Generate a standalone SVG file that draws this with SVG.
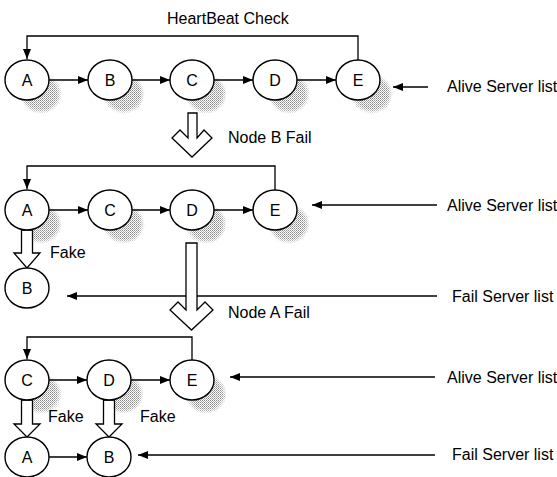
<svg xmlns="http://www.w3.org/2000/svg" width="557" height="477" viewBox="0 0 557 477">
<style>
text{font-family:"Liberation Sans",Arial,sans-serif;font-size:16px;fill:#000}
.lbl{text-anchor:middle}
.node{fill:#fff;stroke:#000;stroke-width:1.4}
.ln{fill:none;stroke:#000;stroke-width:1.3}
.arr{fill:none;stroke:#000;stroke-width:1.3;marker-end:url(#ah)}
.hol{fill:#fff;stroke:#000;stroke-width:1.3;stroke-linejoin:miter}
.sh{fill:url(#stip);mask:url(#fade)}
</style>
<defs>
<marker id="ah" markerUnits="userSpaceOnUse" markerWidth="11" markerHeight="9" refX="10" refY="4" orient="auto">
<path d="M0,0 L10,4 L0,8 z" fill="#000"/>
</marker>
<pattern id="stip" patternUnits="userSpaceOnUse" width="2" height="2">
<rect x="0" y="0" width="1" height="1" fill="#888"/>
<rect x="1" y="1" width="1" height="1" fill="#b0b0b0"/>
</pattern>
<radialGradient id="fg">
<stop offset="0" stop-color="#fff"/>
<stop offset="0.75" stop-color="#fff"/>
<stop offset="1" stop-color="#000"/>
</radialGradient>
<mask id="fade" maskContentUnits="objectBoundingBox">
<rect x="0" y="0" width="1" height="1" fill="url(#fg)"/>
</mask>
</defs>
<rect width="557" height="477" fill="#fff"/>

<g id="shadows">
<ellipse class="sh" cx="41" cy="94" rx="21" ry="20"/>
<ellipse class="sh" cx="124" cy="94" rx="21" ry="20"/>
<ellipse class="sh" cx="206" cy="94" rx="21" ry="20"/>
<ellipse class="sh" cx="289" cy="94" rx="21" ry="20"/>
<ellipse class="sh" cx="372" cy="94" rx="21" ry="20"/>
<ellipse class="sh" cx="41" cy="224" rx="21" ry="20"/>
<ellipse class="sh" cx="124" cy="224" rx="21" ry="20"/>
<ellipse class="sh" cx="206" cy="224" rx="21" ry="20"/>
<ellipse class="sh" cx="289" cy="224" rx="21" ry="20"/>
<ellipse class="sh" cx="41" cy="394" rx="21" ry="20"/>
<ellipse class="sh" cx="123" cy="394" rx="21" ry="20"/>
<ellipse class="sh" cx="206" cy="394" rx="21" ry="20"/>
</g>

<g id="connectors">
<!-- row 1 -->
<polyline class="arr" points="358,60 358,36 27,36 27,59"/>
<line class="arr" x1="49" y1="80" x2="88" y2="80"/>
<line class="arr" x1="132" y1="80" x2="170" y2="80"/>
<line class="arr" x1="214" y1="80" x2="253" y2="80"/>
<line class="arr" x1="297" y1="80" x2="336" y2="80"/>
<line class="arr" x1="428" y1="87" x2="393" y2="87"/>
<polygon class="hol" points="188,113 188,138 180,130 172,138 192,157 212,138 204,130 197,138 197,113"/>
<!-- row 2 -->
<polyline class="arr" points="275,190 275,166 27,166 27,189"/>
<line class="arr" x1="49" y1="210" x2="88" y2="210"/>
<line class="arr" x1="132" y1="210" x2="170" y2="210"/>
<line class="arr" x1="214" y1="210" x2="253" y2="210"/>
<line class="arr" x1="437" y1="205" x2="312" y2="205"/>
<polygon class="hol" points="21.5,230 21.5,253 14,253 27,268 40,253 32.5,253 32.5,230"/>
<line class="arr" x1="437" y1="296" x2="67" y2="296"/>
<polygon class="hol" points="186,243 186,310 178,302 170,310 191.5,330 213,310 205,302 197,310 197,243"/>
<!-- row 3 -->
<polyline class="arr" points="192,360 192,337 27,337 27,359"/>
<line class="arr" x1="49" y1="380" x2="87" y2="380"/>
<line class="arr" x1="131" y1="380" x2="170" y2="380"/>
<line class="arr" x1="435" y1="377" x2="230" y2="377"/>
<polygon class="hol" points="21.5,400 21.5,424 14,424 27,437 40,424 32.5,424 32.5,400"/>
<polygon class="hol" points="103.5,400 103.5,424 96,424 109,437 122,424 114.5,424 114.5,400"/>
<line class="arr" x1="49" y1="457" x2="87" y2="457"/>
<line class="arr" x1="435" y1="455" x2="138" y2="455"/>
</g>

<g id="n1A"><ellipse class="node" cx="27" cy="80" rx="22" ry="20"/><text class="lbl" x="27" y="86">A</text></g>
<g id="n1B"><ellipse class="node" cx="110" cy="80" rx="22" ry="20"/><text class="lbl" x="110" y="86">B</text></g>
<g id="n1C"><ellipse class="node" cx="192" cy="80" rx="22" ry="20"/><text class="lbl" x="192" y="86">C</text></g>
<g id="n1D"><ellipse class="node" cx="275" cy="80" rx="22" ry="20"/><text class="lbl" x="275" y="86">D</text></g>
<g id="n1E"><ellipse class="node" cx="358" cy="80" rx="22" ry="20"/><text class="lbl" x="358" y="86">E</text></g>

<g id="n2A"><ellipse class="node" cx="27" cy="210" rx="22" ry="20"/><text class="lbl" x="27" y="216">A</text></g>
<g id="n2C"><ellipse class="node" cx="110" cy="210" rx="22" ry="20"/><text class="lbl" x="110" y="216">C</text></g>
<g id="n2D"><ellipse class="node" cx="192" cy="210" rx="22" ry="20"/><text class="lbl" x="192" y="216">D</text></g>
<g id="n2E"><ellipse class="node" cx="275" cy="210" rx="22" ry="20"/><text class="lbl" x="275" y="216">E</text></g>
<g id="n2B"><ellipse class="node" cx="27" cy="288" rx="22" ry="20"/><text class="lbl" x="27" y="294">B</text></g>

<g id="n3C"><ellipse class="node" cx="27" cy="380" rx="22" ry="20"/><text class="lbl" x="27" y="386">C</text></g>
<g id="n3D"><ellipse class="node" cx="109" cy="380" rx="22" ry="20"/><text class="lbl" x="109" y="386">D</text></g>
<g id="n3E"><ellipse class="node" cx="192" cy="380" rx="22" ry="20"/><text class="lbl" x="192" y="386">E</text></g>
<g id="n3A"><ellipse class="node" cx="27" cy="457" rx="22" ry="20"/><text class="lbl" x="27" y="463">A</text></g>
<g id="n3B"><ellipse class="node" cx="109" cy="457" rx="22" ry="20"/><text class="lbl" x="109" y="463">B</text></g>

<g id="labels">
<text x="167" y="24">HeartBeat Check</text>
<text x="447" y="92">Alive Server list</text>
<text x="228" y="143">Node B Fail</text>
<text x="447" y="211">Alive Server list</text>
<text x="50" y="258">Fake</text>
<text x="452" y="302">Fail Server list</text>
<text x="228" y="318">Node A Fail</text>
<text x="447" y="383">Alive Server list</text>
<text x="48" y="422">Fake</text>
<text x="140" y="422">Fake</text>
<text x="452" y="460">Fail Server list</text>
</g>
</svg>
